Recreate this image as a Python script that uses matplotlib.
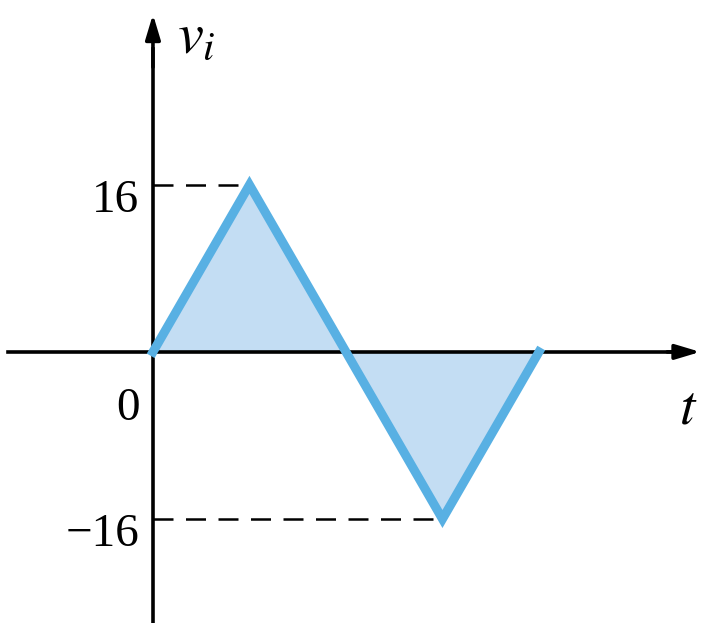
import matplotlib.pyplot as plt
import numpy as np

# triangle wave, time in quarter periods
t_pts = [0, 1, 2, 3, 4]
v_pts = [0, 16, 0, -16, 0]
tick_vals = [16, 0, -16]
tick_labels = ['16', '0', '\u221216']

fig = plt.figure(figsize=(7.04, 6.23), dpi=100)
ax = fig.add_axes([0, 0, 1, 1])
ax.set_xlim(-1.585, 5.71)
ax.set_ylim(-25.96, 33.7)
ax.axis('off')

serif = ['Liberation Serif', 'DejaVu Serif']

# shaded area + waveform
ax.fill_between(t_pts, v_pts, 0, color='#c3ddf3', lw=0, zorder=1)
ax.plot(t_pts, v_pts, color='#58b0e3', lw=6.5, solid_joinstyle='miter', zorder=3)

# axes with arrows
ax.plot([-1.5, 5.5], [0, 0], color='black', lw=2.6, zorder=2)
ax.annotate('', xy=(5.7, 0), xytext=(5.3, 0),
            arrowprops=dict(arrowstyle='-|>,head_length=1.5,head_width=0.45', color='black', lw=2.6))
ax.plot([0, 0], [-25.9, 29], color='black', lw=2.6, zorder=2)
ax.annotate('', xy=(0, 32.6), xytext=(0, 27),
            arrowprops=dict(arrowstyle='-|>,head_length=1.5,head_width=0.45', color='black', lw=2.6))

# dashed guide lines to the peaks
ax.plot([0, t_pts[1]], [v_pts[1], v_pts[1]], color='black', lw=1.8, dashes=(8, 5), zorder=2)
ax.plot([0, t_pts[3]], [v_pts[3], v_pts[3]], color='black', lw=1.8, dashes=(8, 5), zorder=2)

# tick labels
for val, lab in zip(tick_vals, tick_labels):
    yoff = -1.5 if val != 0 else -5.4
    ax.text(-0.14, val + yoff, lab, ha='right', va='center', fontsize=34, family=serif)

ax.text(0.25, 30.2, r'$v_i$', ha='left', va='center', fontsize=42,
        math_fontfamily='stix')
ax.text(5.45, -5.4, r'$t$', ha='left', va='center', fontsize=40,
        math_fontfamily='stix')

plt.savefig('out.png', dpi=100)
